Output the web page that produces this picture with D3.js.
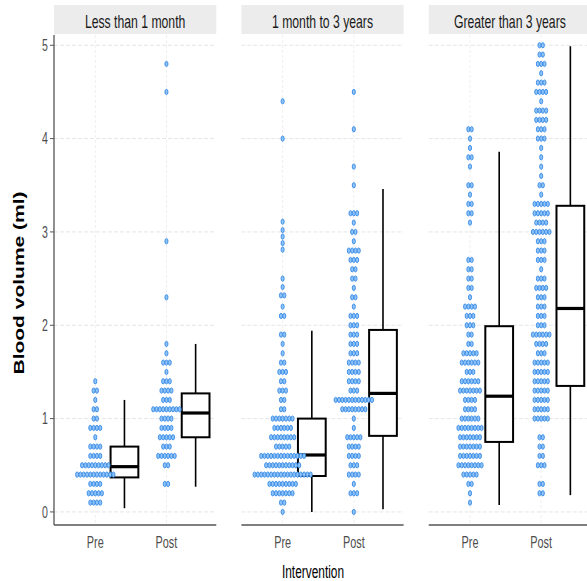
<!DOCTYPE html>
<html>
<head>
<meta charset="utf-8">
<script src="https://cdn.jsdelivr.net/npm/d3@7"></script>
<style>
  body { margin: 0; background: #fff; }
  svg { display: block; font-family: "Liberation Sans", Arial, sans-serif; }
</style>
</head>
<body>
<script>
// facets, x categories, y ticks
var panels = ["Less than 1 month", "1 month to 3 years", "Greater than 3 years"];
var phases = ["Pre", "Post"];
var yTicks = [0, 1, 2, 3, 4, 5];

// dot rows: [blood volume, number of stacked dots]
var dotsLess1mPre = [[1.4,1],[1.3,2],[1.2,1],[1.1,2],[1.0,2],[0.9,4],[0.8,1],[0.7,4],[0.6,4],[0.5,9],[0.4,12],[0.3,4],[0.2,5],[0.1,4]];
var dotsLess1mPost = [[4.8,1],[4.5,1],[2.9,1],[2.3,1],[1.8,1],[1.7,1],[1.6,3],[1.5,1],[1.4,3],[1.3,4],[1.2,3],[1.1,9],[1.0,4],[0.9,4],[0.8,5],[0.7,3],[0.6,6],[0.5,2],[0.3,2]];
var dotsMid3yPre = [[4.4,1],[4.0,1],[3.11,1],[3.02,1],[2.95,1],[2.88,1],[2.81,1],[2.5,1],[2.41,1],[2.32,2],[2.2,1],[2.1,2],[1.9,2],[1.8,1],[1.7,1],[1.6,2],[1.5,3],[1.4,2],[1.3,3],[1.2,2],[1.1,2],[1.0,7],[0.9,6],[0.8,8],[0.7,5],[0.6,14],[0.5,11],[0.4,18],[0.3,9],[0.2,7],[0.1,2],[0.0,1]];
var dotsMid3yPost = [[4.5,1],[4.1,1],[3.7,1],[3.5,1],[3.2,3],[3.1,1],[3.0,2],[2.9,1],[2.8,4],[2.7,3],[2.6,2],[2.5,2],[2.4,1],[2.3,2],[2.2,1],[2.1,3],[2.0,3],[1.9,3],[1.8,3],[1.7,3],[1.6,4],[1.5,4],[1.4,4],[1.3,3],[1.2,12],[1.1,8],[1.0,1],[0.9,1],[0.8,5],[0.7,4],[0.6,4],[0.5,3],[0.4,4],[0.3,1],[0.2,3],[0.0,1]];
var dotsOver3yPre = [[4.1,2],[4.0,1],[3.9,1],[3.8,2],[3.7,1],[3.5,2],[3.4,1],[3.3,2],[3.2,2],[3.1,1],[2.7,2],[2.6,2],[2.5,2],[2.4,2],[2.3,1],[2.2,4],[2.1,3],[2.0,3],[1.9,2],[1.8,2],[1.7,5],[1.6,6],[1.5,3],[1.4,6],[1.3,7],[1.2,4],[1.1,4],[1.0,6],[0.9,8],[0.8,7],[0.7,7],[0.6,7],[0.5,8],[0.4,5],[0.3,2],[0.2,1],[0.1,1]];
var dotsOver3yPost = [[5.0,2],[4.9,2],[4.8,3],[4.7,1],[4.6,3],[4.5,4],[4.4,1],[4.3,4],[4.2,4],[4.1,3],[4.0,3],[3.9,1],[3.8,1],[3.7,1],[3.6,1],[3.5,2],[3.4,1],[3.3,5],[3.2,5],[3.1,4],[3.0,6],[2.9,3],[2.8,3],[2.7,3],[2.6,1],[2.5,3],[2.4,4],[2.3,3],[2.2,3],[2.1,3],[2.0,3],[1.9,6],[1.8,4],[1.7,3],[1.6,5],[1.5,5],[1.4,5],[1.3,5],[1.2,5],[1.1,5],[1.0,5],[0.8,2],[0.7,2],[0.6,2],[0.5,3],[0.3,2],[0.2,2]];

// box statistics per facet, [Pre, Post]
var boxLow  = [[0.04, 0.27], [0.00, 0.03], [0.075, 0.18]];
var boxQ1   = [[0.37, 0.80], [0.385, 0.815], [0.75, 1.35]];
var boxMed  = [[0.485, 1.06], [0.61, 1.27], [1.24, 2.18]];
var boxQ3   = [[0.70, 1.27], [1.00, 1.95], [1.99, 3.28]];
var boxHigh = [[1.20, 1.80], [1.94, 3.46], [3.86, 4.99]];

var dotRows = [[dotsLess1mPre, dotsLess1mPost], [dotsMid3yPre, dotsMid3yPost], [dotsOver3yPre, dotsOver3yPost]];

var W = 587, H = 581;
var sx = 0.66; // the picture is squeezed sideways
var panelTop = 35, panelBottom = 525;

var svg = d3.select("body").append("svg")
  .attr("width", W).attr("height", H);

svg.append("rect").attr("width", W).attr("height", H).attr("fill", "#fff");

var fx = d3.scaleBand().domain(panels).range([54, 591]).paddingInner(0.134).paddingOuter(0);
var bw = fx.bandwidth();
var xIn = d3.scaleLinear().domain([0.42, 2.70]).range([0, bw]);
var y = d3.scaleLinear().domain([-0.14, 5.11]).range([panelBottom, panelTop]);

var boxOffset = 0.41, boxHalf = 0.195;
var dotW = 3.3;

function squash(sel, x, yy, rot) {
  sel.attr("transform", "translate(" + x + "," + yy + ") scale(" + sx + ",1)" + (rot ? " rotate(" + rot + ")" : ""));
}

panels.forEach(function(p, pi) {
  var g = svg.append("g").attr("transform", "translate(" + fx(p) + ",0)");

  // strip
  g.append("rect")
    .attr("x", 0).attr("y", 5).attr("width", bw).attr("height", 29)
    .attr("fill", "#ececec");
  g.append("text")
    .attr("text-anchor", "middle")
    .attr("font-size", 18.5)
    .attr("fill", "#1a1a1a")
    .text(p)
    .call(squash, bw / 2, 27.5);

  // grid
  g.selectAll(".hgrid").data(yTicks).enter().append("line")
    .attr("x1", 0).attr("x2", bw)
    .attr("y1", function(d) { return y(d); }).attr("y2", function(d) { return y(d); })
    .attr("stroke", "#e6e6e6").attr("stroke-dasharray", "4,2");
  g.selectAll(".vgrid").data(phases).enter().append("line")
    .attr("x1", function(d, i) { return xIn(i + 1); }).attr("x2", function(d, i) { return xIn(i + 1); })
    .attr("y1", panelTop).attr("y2", panelBottom)
    .attr("stroke", "#efefef").attr("stroke-dasharray", "3,2");

  // boxplots, nudged right of the dots
  phases.forEach(function(ph, k) {
    var cx = xIn(k + 1 + boxOffset);
    var left = xIn(k + 1 + boxOffset - boxHalf), right = xIn(k + 1 + boxOffset + boxHalf);
    g.append("line")
      .attr("x1", cx).attr("x2", cx)
      .attr("y1", y(boxQ3[pi][k])).attr("y2", y(boxHigh[pi][k]))
      .attr("stroke", "#000").attr("stroke-width", 1.6);
    g.append("line")
      .attr("x1", cx).attr("x2", cx)
      .attr("y1", y(boxQ1[pi][k])).attr("y2", y(boxLow[pi][k]))
      .attr("stroke", "#000").attr("stroke-width", 1.6);
    g.append("rect")
      .attr("x", left).attr("width", right - left)
      .attr("y", y(boxQ3[pi][k])).attr("height", y(boxQ1[pi][k]) - y(boxQ3[pi][k]))
      .attr("fill", "#fff").attr("stroke", "#000").attr("stroke-width", 2);
    g.append("line")
      .attr("x1", left).attr("x2", right)
      .attr("y1", y(boxMed[pi][k])).attr("y2", y(boxMed[pi][k]))
      .attr("stroke", "#000").attr("stroke-width", 3.2);
  });

  // dot plots, stacked sideways around the category
  phases.forEach(function(ph, k) {
    var pts = [];
    dotRows[pi][k].forEach(function(r) {
      for (var i = 0; i < r[1]; i++) {
        pts.push({ v: r[0], off: (i - (r[1] - 1) / 2) * dotW });
      }
    });
    g.append("g").selectAll("ellipse").data(pts).enter().append("ellipse")
      .attr("cx", function(d) { return xIn(k + 1) + d.off; })
      .attr("cy", function(d) { return y(d.v); })
      .attr("rx", 1.55).attr("ry", 2.65)
      .attr("fill", "#8fc3f5")
      .attr("stroke", "#3388e6")
      .attr("stroke-width", 0.9);
  });

  // x axis
  g.append("line")
    .attr("x1", 0).attr("x2", bw).attr("y1", panelBottom).attr("y2", panelBottom)
    .attr("stroke", "#555").attr("stroke-width", 1.3);
  phases.forEach(function(ph, k) {
    g.append("text")
      .attr("text-anchor", "middle")
      .attr("font-size", 16.5)
      .attr("fill", "#4d4d4d")
      .text(ph)
      .call(squash, xIn(k + 1), 547.5);
  });
});

// y axis on the first panel
var x0 = fx(panels[0]);
svg.append("line")
  .attr("x1", x0).attr("x2", x0).attr("y1", panelTop).attr("y2", panelBottom)
  .attr("stroke", "#555").attr("stroke-width", 1.3);
yTicks.forEach(function(t) {
  svg.append("line")
    .attr("x1", x0 - 4).attr("x2", x0).attr("y1", y(t)).attr("y2", y(t))
    .attr("stroke", "#555").attr("stroke-width", 1);
  svg.append("text")
    .attr("text-anchor", "end")
    .attr("font-size", 16)
    .attr("fill", "#4d4d4d")
    .text(t)
    .call(squash, x0 - 6, y(t) + 5.6);
});

// axis titles
svg.append("text")
  .attr("text-anchor", "middle")
  .attr("font-size", 18)
  .attr("fill", "#000")
  .text("Intervention")
  .call(squash, 313, 578);

svg.append("text")
  .attr("text-anchor", "middle")
  .attr("font-size", 21)
  .attr("font-weight", "bold")
  .attr("fill", "#000")
  .text("Blood volume (ml)")
  .call(squash, 23.5, (panelTop + panelBottom) / 2 + 3, -90);
</script>
</body>
</html>
